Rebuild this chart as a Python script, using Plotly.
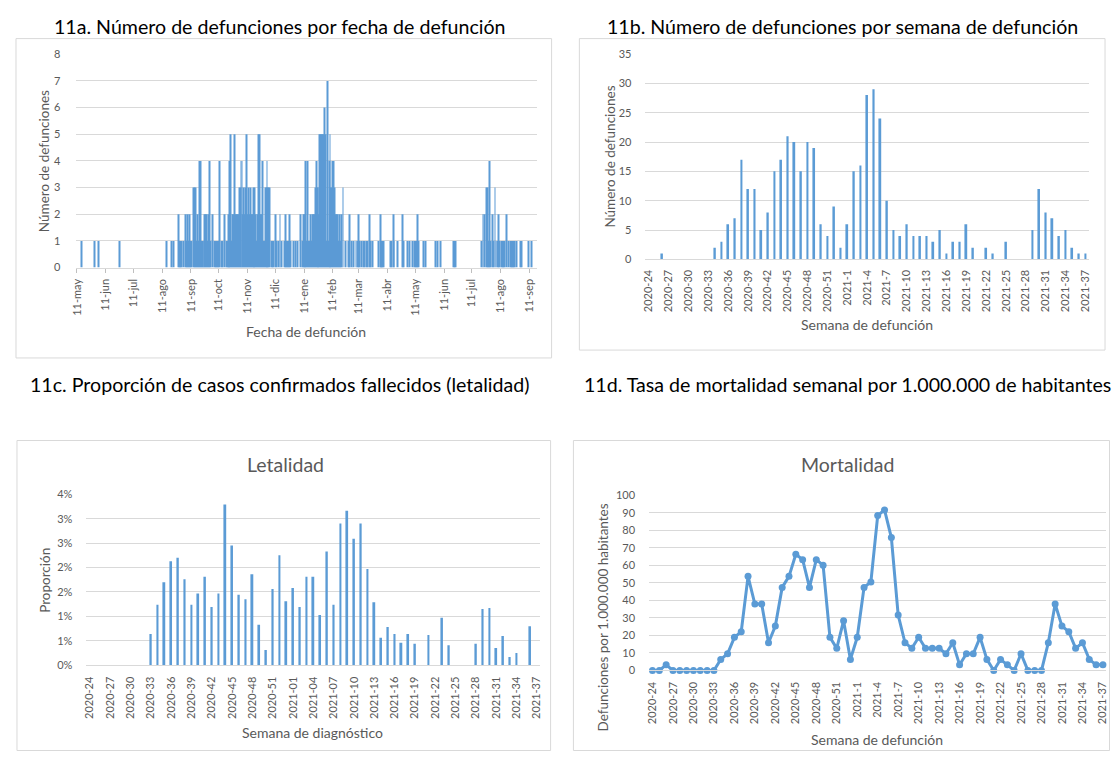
import pandas as pd
import plotly.graph_objects as go

# The page keeps the browser's default 8px body margin, so the figure is drawn
# 16px smaller than the window and every reference pixel is shifted by 8px.
PAGE_W, PAGE_H, OFF = 1120, 765, 8
W, H = PAGE_W - 2 * OFF, PAGE_H - 2 * OFF
def px(x):
    return min(max((x - OFF) / W, 0), 1)
def py(y):
    return min(max(1 - (y - OFF) / H, 0), 1)

BLUE = "#5B9BD5"
GRID = "#D9D9D9"
TXT = "#595959"
FONT = "Lato"

# ---------------- 11a: daily deaths (rows = ISO weeks, Monday first), starting Monday 2020-05-11
daily_start = "2020-05-11"
daily_deaths = [
    0,0,0,0,0,1,0,   # 2020-W20
    0,0,0,0,0,0,0,   # W21
    0,0,0,0,0,1,0,   # W22
    0,0,1,0,0,0,0,   # W23
    0,0,0,0,0,0,0,   # W24
    0,0,0,0,0,0,0,   # W25
    0,0,0,0,1,0,0,   # W26
    0,0,0,0,0,0,0,   # W27
    0,0,0,0,0,0,0,   # W28
    0,0,0,0,0,0,0,   # W29
    0,0,0,0,0,0,0,   # W30
    0,0,0,0,0,0,0,   # W31
    0,0,0,0,0,0,0,   # W32
    0,0,0,0,0,0,1,   # W33
    0,0,0,0,1,0,1,   # W34
    0,0,0,0,0,2,1,   # W35
    1,1,0,1,0,2,1,   # W36
    2,1,2,1,0,1,0,   # W37
    3,3,3,1,2,1,4,   # W38
    4,1,1,1,1,2,2,   # W39
    2,1,2,4,1,0,2,   # W40
    0,1,1,0,1,1,1,   # W41
    4,0,1,1,0,2,0,   # W42
    1,1,2,1,4,5,1,   # W43
    2,2,5,2,2,2,2,   # W44
    3,3,4,4,2,3,2,   # W45
    3,5,2,3,2,3,2,   # W46
    2,3,2,3,2,1,2,   # W47
    5,5,2,2,4,1,1,   # W48
    3,3,4,3,3,3,0,   # W49
    1,1,1,0,2,1,0,   # W50
    1,0,2,0,1,0,0,   # W51
    1,2,1,1,1,2,1,   # W52
    0,0,0,1,0,1,0,   # W53
    1,0,0,2,0,1,2,   # 2021-W01
    2,2,4,1,4,1,1,   # W02
    2,1,2,2,2,3,4,   # W03
    3,3,2,5,5,5,5,   # W04
    5,6,5,1,7,1,4,   # W05
    5,3,3,4,4,3,2,   # W06
    2,2,1,2,1,2,0,   # W07
    3,0,0,1,0,0,1,   # W08
    2,0,1,0,1,0,0,   # W09
    1,0,1,2,1,0,1,   # W10
    0,1,1,0,1,1,0,   # W11
    0,2,1,0,1,0,0,   # W12
    0,0,0,1,0,2,1,   # W13
    1,1,1,0,0,0,0,   # W14
    0,0,1,1,0,2,1,   # W15
    0,0,0,1,0,0,0,   # W16
    0,2,1,0,0,0,0,   # W17
    1,0,1,0,0,1,0,   # W18
    1,1,1,2,1,0,0,   # W19
    0,0,0,1,0,1,0,   # W20
    0,0,0,0,0,0,0,   # W21
    0,0,1,0,1,0,0,   # W22
    1,0,0,0,0,0,0,   # W23
    0,0,0,0,0,0,0,   # W24
    1,1,1,0,0,0,0,   # W25
    0,0,0,0,0,0,0,   # W26
    0,0,0,0,0,0,0,   # W27
    0,0,0,0,0,0,0,   # W28
    0,0,1,0,2,0,2,   # W29
    0,3,3,1,4,1,0,   # W30
    2,1,0,3,1,0,1,   # W31
    2,1,0,1,1,1,1,   # W32
    0,2,0,0,1,0,1,   # W33
    1,1,1,1,0,1,0,   # W34
    0,0,1,0,1,0,0,   # W35
    0,0,0,0,1,0,0,   # W36
    1,0,0,0,0,0,0,   # W37
]
month_tick_dates = ["2020-05-11", "2020-06-11", "2020-07-11", "2020-08-11", "2020-09-11",
                    "2020-10-11", "2020-11-11", "2020-12-11", "2021-01-11", "2021-02-11",
                    "2021-03-11", "2021-04-11", "2021-05-11", "2021-06-11", "2021-07-11",
                    "2021-08-11", "2021-09-11"]
month_tick_labels = ["11-may", "11-jun", "11-jul", "11-ago", "11-sep", "11-oct", "11-nov",
                     "11-dic", "11-ene", "11-feb", "11-mar", "11-abr", "11-may", "11-jun",
                     "11-jul", "11-ago", "11-sep"]

# ---------------- weekly categories
weeks_2020 = ["2020-24", "2020-25", "2020-26", "2020-27", "2020-28", "2020-29", "2020-30",
              "2020-31", "2020-32", "2020-33", "2020-34", "2020-35", "2020-36", "2020-37",
              "2020-38", "2020-39", "2020-40", "2020-41", "2020-42", "2020-43", "2020-44",
              "2020-45", "2020-46", "2020-47", "2020-48", "2020-49", "2020-50", "2020-51",
              "2020-52", "2020-53"]
weeks_2021 = ["2021-1", "2021-2", "2021-3", "2021-4", "2021-5", "2021-6", "2021-7", "2021-8",
              "2021-9", "2021-10", "2021-11", "2021-12", "2021-13", "2021-14", "2021-15",
              "2021-16", "2021-17", "2021-18", "2021-19", "2021-20", "2021-21", "2021-22",
              "2021-23", "2021-24", "2021-25", "2021-26", "2021-27", "2021-28", "2021-29",
              "2021-30", "2021-31", "2021-32", "2021-33", "2021-34", "2021-35", "2021-36",
              "2021-37"]
weeks_2021_diag = ["2021-01", "2021-02", "2021-03", "2021-04", "2021-05", "2021-06", "2021-07",
                   "2021-08", "2021-09", "2021-10", "2021-11", "2021-12", "2021-13", "2021-14",
                   "2021-15", "2021-16", "2021-17", "2021-18", "2021-19", "2021-20", "2021-21",
                   "2021-22", "2021-23", "2021-24", "2021-25", "2021-26", "2021-27", "2021-28",
                   "2021-29", "2021-30", "2021-31", "2021-32", "2021-33", "2021-34", "2021-35",
                   "2021-36", "2021-37"]
weeks_def = weeks_2020 + weeks_2021
weeks_diag = weeks_2020 + weeks_2021_diag

# 11b: weekly deaths
weekly_deaths = [0, 0, 1, 0, 0, 0, 0, 0, 0, 0, 2, 3, 6, 7, 17, 12, 12, 5, 8, 15, 17, 21, 20, 15,
                 20, 19, 6, 4, 9, 2, 6, 15, 16, 28, 29, 24, 10, 5, 4, 6, 4, 4, 4, 3, 5, 1, 3, 3,
                 6, 2, 0, 2, 1, 0, 3, 0, 0, 0, 5, 12, 8, 7, 4, 5, 2, 1, 1]

# 11c: case fatality (proportion)
lethality = [0, 0, 0, 0, 0, 0, 0, 0, 0, 0.0064, 0.0124, 0.0170, 0.0213, 0.0220, 0.0176, 0.0124,
             0.0147, 0.0181, 0.0119, 0.0147, 0.0329, 0.0245, 0.0144, 0.0135, 0.0186, 0.0083,
             0.0031, 0.0156, 0.0225, 0.0131, 0.0158, 0.0119, 0.0181, 0.0181, 0.0103, 0.0233,
             0.0124, 0.0290, 0.0316, 0.0259, 0.0290, 0.0197, 0.0129, 0.0056, 0.0078, 0.0064,
             0.0046, 0.0064, 0.0044, 0, 0.0062, 0, 0.0097, 0.0041, 0, 0, 0, 0.0044, 0.0115,
             0.0117, 0.0035, 0.0060, 0.0017, 0.0025, 0, 0.0080, 0]
lethality_tickvals = [0, 0.005, 0.01, 0.015, 0.02, 0.025, 0.03, 0.035]
lethality_ticktext = ["0%", "1%", "1%", "2%", "2%", "3%", "3%", "4%"]

# 11d: weekly mortality per 1,000,000
mortality = [0, 0, 3.2, 0, 0, 0, 0, 0, 0, 0, 6.3, 9.5, 18.9, 22.1, 53.7, 37.9, 37.9, 15.8, 25.3,
             47.4, 53.7, 66.3, 63.2, 47.4, 63.2, 60.0, 18.9, 12.6, 28.4, 6.3, 18.9, 47.4, 50.5,
             88.4, 91.6, 75.8, 31.6, 15.8, 12.6, 18.9, 12.6, 12.6, 12.6, 9.5, 15.8, 3.2, 9.5,
             9.5, 18.9, 6.3, 0, 6.3, 3.2, 0, 9.5, 0, 0, 0, 15.8, 37.9, 25.3, 22.1, 12.6, 15.8,
             6.3, 3.2, 3.2]

dates = pd.date_range(daily_start, periods=len(daily_deaths), freq="D")

fig = go.Figure()
fig.add_trace(go.Bar(x=dates, y=daily_deaths, marker=dict(color=BLUE, line=dict(width=0)),
                     width=86400000, xaxis="x", yaxis="y"))
fig.add_trace(go.Bar(x=weeks_def, y=weekly_deaths, marker=dict(color=BLUE, line=dict(width=0)),
                     width=0.28, xaxis="x2", yaxis="y2"))
fig.add_trace(go.Bar(x=weeks_diag, y=lethality, marker=dict(color=BLUE, line=dict(width=0)),
                     width=0.28, xaxis="x3", yaxis="y3"))
fig.add_trace(go.Scatter(x=weeks_def, y=mortality, mode="lines+markers",
                         line=dict(color=BLUE, width=3),
                         marker=dict(color=BLUE, size=7), cliponaxis=False,
                         xaxis="x4", yaxis="y4"))

tickfont = dict(family=FONT, size=11, color=TXT)
common_y = dict(showgrid=True, gridcolor=GRID, gridwidth=1, zeroline=False, showline=False,
                ticks="", tickfont=tickfont, ticklabelstandoff=12, fixedrange=True)
common_x = dict(showgrid=False, zeroline=False, showline=True, linecolor=GRID, linewidth=1,
                tickangle=-90, tickfont=tickfont, fixedrange=True)

fig.update_layout(
    width=W, height=H, margin=dict(l=0, r=0, t=0, b=0),
    paper_bgcolor="white", plot_bgcolor="white", showlegend=False,
    font=dict(family=FONT, color=TXT),
    xaxis=dict(common_x, type="date", domain=[px(70), px(534.5)], anchor="y",
               range=["2020-05-10 12:00", "2021-09-19 12:00"],
               tickmode="array", tickvals=month_tick_dates, ticktext=month_tick_labels,
               ticks="outside", ticklen=4, tickcolor="#BFBFBF", ticklabelstandoff=2),
    yaxis=dict(common_y, domain=[py(265), py(48)], range=[0, 8], dtick=1, anchor="x",
               ticklabelstandoff=15),
    xaxis2=dict(common_x, type="category", domain=[px(643.6), px(1090.5)], anchor="y2",
                range=[-0.5, 66.5], tickmode="array", tickvals=weeks_def[::3],
                ticktext=weeks_def[::3], ticklabelstandoff=5),
    yaxis2=dict(common_y, domain=[py(256.7), py(47.7)], range=[0, 35], dtick=5, anchor="x2",
                ticklabelstandoff=13),
    xaxis3=dict(common_x, type="category", domain=[px(80), px(537.5)], anchor="y3",
                range=[-0.5, 66.5], tickmode="array", tickvals=weeks_diag[::3],
                ticktext=weeks_diag[::3], ticklabelstandoff=6),
    yaxis3=dict(common_y, domain=[py(669.7), py(495.7)], range=[0, 0.035],
                tickmode="array", tickvals=lethality_tickvals, ticktext=lethality_ticktext,
                anchor="x3", ticklabelstandoff=13),
    xaxis4=dict(common_x, type="category", domain=[px(647.3), px(1108.3)], anchor="y4",
                range=[-0.5, 66.5], tickmode="array", tickvals=weeks_def[::3],
                ticktext=weeks_def[::3], ticklabelstandoff=6),
    yaxis4=dict(common_y, domain=[py(675), py(496.7)], range=[0, 100], dtick=10, anchor="x4",
                ticklabelstandoff=13),
)

# chart-area borders
for (x0, y0, x1, y1) in [(9, 32, 549, 357), (577, 32, 1107, 349), (10, 441, 548, 756.5),
                         (571, 441, 1111.5, 756.5)]:
    fig.add_shape(type="rect", xref="paper", yref="paper", x0=px(x0), x1=px(x1),
                  y0=py(y1), y1=py(y0), line=dict(color=GRID, width=1), layer="below")

def ann(text, x, y, size, color=TXT, angle=0):
    fig.add_annotation(text=text, x=px(x), y=py(y), xref="paper", yref="paper",
                       showarrow=False, textangle=angle, xanchor="center", yanchor="middle",
                       font=dict(family=FONT, size=size, color=color))

# panel titles
ann("11a. Número de defunciones por fecha de defunción", 275, 20, 19.6, "#000000")
ann("11b. Número de defunciones por semana de defunción", 842, 20, 19.6, "#000000")
ann("11c. Proporción de casos confirmados fallecidos (letalidad)", 275, 384, 19.6, "#000000")
ann("11d. Tasa de mortalidad semanal por 1.000.000 de habitantes", 847, 384, 19.6, "#000000")
# inner titles
ann("Letalidad", 281, 465, 19.5)
ann("Mortalidad", 847, 465, 19.5)
# axis titles
ann("Número de defunciones", 38, 157, 13.5, angle=-90)
ann("Fecha de defunción", 301, 330, 14)
ann("Número de defunciones", 607, 152, 13.5, angle=-90)
ann("Semana de defunción", 867, 323, 14)
ann("Proporción", 38, 583, 13.5, angle=-90)
ann("Semana de diagnóstico", 308, 738, 14)
ann("Defunciones por 1.000.000 habitantes", 601, 621, 13.5, angle=-90)
ann("Semana de defunción", 877, 745, 14)

fig.write_html("out.html", config={"displayModeBar": False})
